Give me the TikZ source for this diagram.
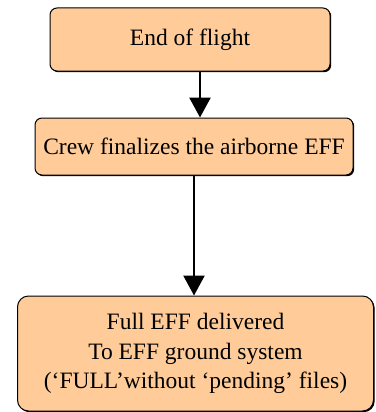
\documentclass[tikz,border=0pt]{standalone}
\usepackage{fontspec}
\setmainfont{Liberation Serif}
\usetikzlibrary{arrows.meta,shadows}
\definecolor{peach}{HTML}{FFCC99}
\begin{document}
\begin{tikzpicture}[x=1pt,y=-1pt,
  stepbox/.style={draw=black, line width=1pt, fill=peach, rounded corners=7pt,
    align=center, inner sep=0pt,
    font=\fontsize{23.5}{29.5}\selectfont,
    general shadow={shadow xshift=1.2pt, shadow yshift=-1.2pt, fill=black}},
  flow/.style={line width=2.6pt, -{Triangle[width=21pt,length=20pt]}}]
\useasboundingbox (0,0) rectangle (375,412);
\node[stepbox, minimum width=280pt, minimum height=63pt] (b1) at (190,39.5) {End of flight};
\node[stepbox, minimum width=318pt, minimum height=57pt] (b2) at (194,146.5) {Crew finalizes the airborne EFF};
\node[stepbox, rounded corners=11pt, minimum width=356pt, minimum height=115pt] (b3) at (195.5,353.5)
  {Full EFF delivered\\To EFF ground system\\(‘FULL’without ‘pending’ files)};
\draw[flow] ([xshift=10pt]b1.south) -- ([xshift=6pt]b2.north);
\draw[flow] (b2.south) -- (b2.south |- b3.north);
\end{tikzpicture}
\end{document}
